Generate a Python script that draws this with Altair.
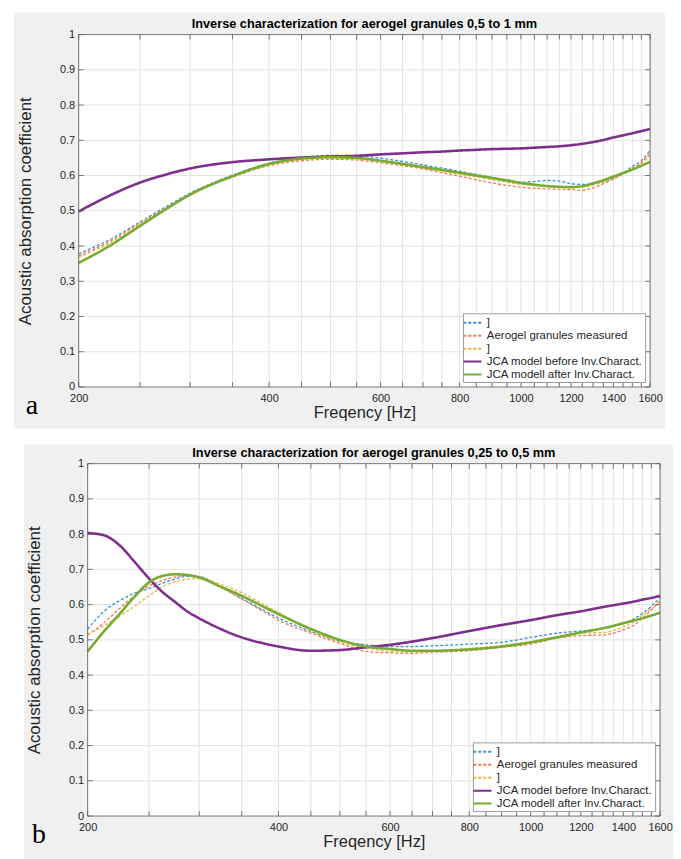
import altair as alt
import pandas as pd

# ---------------- data ----------------
series_keys = ["m1", "m2", "m3", "before", "after"]
series_labels = ["]", "Aerogel granules measured", "]",
                 "JCA model before Inv.Charact.", "JCA modell after Inv.Charact."]
series_colors = ["#3a8fd9", "#ee7b4f", "#f2b23e", "#7e2f8e", "#77ac30"]
series_dashes = [[3, 2], [3, 2], [3, 2], [1, 0], [1, 0]]

grid_freqs = [200, 250, 300, 350, 400, 450, 500, 550, 600, 650, 700, 750, 800, 850, 900,
              950, 1000, 1050, 1100, 1150, 1200, 1250, 1300, 1350, 1400, 1450, 1500, 1550, 1600]
x_tick_values = [200, 400, 600, 800, 1000, 1200, 1400, 1600]
y_tick_values = [0, 0.1, 0.2, 0.3, 0.4, 0.5, 0.6, 0.7, 0.8, 0.9, 1.0]
y_grid_values = [0.1, 0.2, 0.3, 0.4, 0.5, 0.6, 0.7, 0.8, 0.9]

title_a = "Inverse characterization for aerogel granules 0,5 to 1 mm"
title_b = "Inverse characterization for aerogel granules 0,25 to 0,5 mm"

freq_a = [200, 225, 250, 275, 300, 350, 400, 450, 500, 550, 600, 650, 700, 750, 800, 850,
          900, 950, 1000, 1050, 1100, 1150, 1200, 1250, 1300, 1350, 1400, 1450, 1500, 1550, 1600]
m1_a = [0.378, 0.420, 0.468, 0.512, 0.550, 0.601, 0.635, 0.651, 0.657, 0.656, 0.649, 0.640, 0.630,
        0.621, 0.612, 0.603, 0.595, 0.588, 0.581, 0.583, 0.586, 0.584, 0.577, 0.575, 0.576, 0.582,
        0.592, 0.607, 0.626, 0.642, 0.672]
m2_a = [0.372, 0.415, 0.465, 0.508, 0.546, 0.596, 0.628, 0.642, 0.646, 0.644, 0.636, 0.628, 0.619,
        0.608, 0.598, 0.588, 0.579, 0.572, 0.567, 0.564, 0.562, 0.561, 0.560, 0.558, 0.565, 0.577,
        0.590, 0.604, 0.621, 0.638, 0.663]
m3_a = [0.368, 0.410, 0.460, 0.505, 0.544, 0.597, 0.631, 0.646, 0.650, 0.648, 0.641, 0.631, 0.621,
        0.612, 0.604, 0.596, 0.588, 0.581, 0.575, 0.573, 0.572, 0.569, 0.567, 0.567, 0.573, 0.582,
        0.593, 0.604, 0.617, 0.632, 0.658]
before_a = [0.498, 0.545, 0.580, 0.603, 0.620, 0.638, 0.646, 0.651, 0.654, 0.656, 0.660, 0.663, 0.666,
            0.668, 0.671, 0.673, 0.675, 0.676, 0.677, 0.679, 0.681, 0.683, 0.686, 0.690, 0.695, 0.701,
            0.708, 0.714, 0.720, 0.726, 0.732]
after_a = [0.352, 0.403, 0.457, 0.505, 0.546, 0.598, 0.633, 0.648, 0.652, 0.650, 0.642, 0.633, 0.624,
           0.616, 0.608, 0.600, 0.593, 0.586, 0.579, 0.574, 0.570, 0.568, 0.567, 0.570, 0.578, 0.587,
           0.597, 0.607, 0.617, 0.628, 0.639]

freq_b = [200, 212, 225, 237, 250, 262, 275, 287, 300, 325, 350, 375, 400, 450, 500, 550, 600,
          650, 700, 800, 900, 1000, 1100, 1200, 1300, 1400, 1450, 1500, 1550, 1600]
m1_b = [0.530, 0.580, 0.612, 0.632, 0.646, 0.660, 0.673, 0.680, 0.679, 0.650, 0.618, 0.588, 0.562,
        0.524, 0.497, 0.486, 0.481, 0.481, 0.483, 0.488, 0.493, 0.507, 0.519, 0.525, 0.531, 0.547,
        0.558, 0.575, 0.595, 0.621]
m2_b = [0.514, 0.548, 0.590, 0.625, 0.653, 0.668, 0.678, 0.683, 0.679, 0.648, 0.616, 0.585, 0.556,
        0.519, 0.490, 0.467, 0.463, 0.462, 0.465, 0.469, 0.479, 0.488, 0.505, 0.512, 0.514, 0.528,
        0.540, 0.561, 0.585, 0.612]
m3_b = [0.516, 0.540, 0.568, 0.595, 0.625, 0.650, 0.665, 0.672, 0.674, 0.657, 0.634, 0.605, 0.578,
        0.528, 0.493, 0.477, 0.467, 0.465, 0.467, 0.475, 0.484, 0.495, 0.509, 0.519, 0.521, 0.537,
        0.550, 0.570, 0.588, 0.607]
before_b = [0.803, 0.797, 0.767, 0.722, 0.674, 0.637, 0.607, 0.581, 0.561, 0.530, 0.507, 0.492, 0.481,
            0.469, 0.471, 0.479, 0.486, 0.495, 0.505, 0.525, 0.542, 0.556, 0.570, 0.581, 0.593, 0.603,
            0.608, 0.614, 0.619, 0.625]
after_b = [0.467, 0.523, 0.575, 0.622, 0.663, 0.681, 0.686, 0.684, 0.677, 0.650, 0.625, 0.598, 0.573,
           0.531, 0.500, 0.481, 0.474, 0.469, 0.469, 0.473, 0.481, 0.493, 0.507, 0.521, 0.533, 0.547,
           0.554, 0.561, 0.569, 0.577]

# ---------------- styling ----------------
FONT = "Liberation Sans"
GRAY_BG = "#f0f0f0"
GRID = "#e3e3e3"
TICK = "#5a5a5a"
TXT = "#262626"


def label_expr():
    parts = []
    for k, lab in zip(series_keys, series_labels):
        parts.append(f"datum.value == '{k}' ? '{lab}' : ")
    return "".join(parts) + "''"


def panel(freq, values, title, letter, Wp, H, shift, gray, letter_x):
    W = Wp + shift
    rows = []
    for k in series_keys:
        for f, v in zip(freq, values[k]):
            rows.append({"f": f, "v": v, "s": k})
    df = pd.DataFrame(rows)
    meas = df[df["s"].isin(["m1", "m2", "m3"])]
    mods = df[df["s"].isin(["before", "after"])]
    one = pd.DataFrame({"k": [0]})
    gx = pd.DataFrame({"f": grid_freqs})
    gy = pd.DataFrame({"v": y_grid_values})
    ty = pd.DataFrame({"v": y_tick_values})

    xs = alt.Scale(type="log", domain=[200, 1600], nice=False, range=[shift, W])
    ysc = alt.Scale(domain=[0, 1], nice=False)
    xaxis = alt.Axis(values=x_tick_values, format="d", title="Freqency [Hz]", grid=False,
                     domain=False, ticks=False, labelFont=FONT, labelFontSize=11,
                     labelColor=TXT, labelPadding=6, labelFlush=False, labelOverlap=False,
                     titleFont=FONT, titleFontSize=16.5, titleFontWeight="normal",
                     titleColor=TXT, titlePadding=1, zindex=1)
    yaxis = alt.Axis(values=y_tick_values, format=".1~f", offset=-shift,
                     title="Acoustic absorption coefficient", grid=False, domain=False,
                     ticks=False, labelFont=FONT, labelFontSize=11, labelColor=TXT,
                     labelPadding=4, labelFlush=False, titleFont=FONT, titleFontSize=17,
                     titleFontWeight="normal", titleColor=TXT, titlePadding=25, zindex=1)
    X = alt.X("f:Q", scale=xs, axis=xaxis)
    Y = alt.Y("v:Q", scale=ysc, axis=yaxis)

    leg = alt.Legend(orient="bottom-right", title=None, labelExpr=label_expr(),
                     symbolType="M-1.4,0H1.4", symbolSize=169, symbolStrokeWidth=2,
                     symbolFillColor="transparent",
                     fillColor="white", strokeColor="#9a9a9a", padding=2, offset=5,
                     rowPadding=0, labelOffset=7, labelFont=FONT, labelFontSize=11.5,
                     labelColor=TXT, labelLimit=300, zindex=1)
    color = alt.Color("s:N", scale=alt.Scale(domain=series_keys, range=series_colors), legend=leg)
    dash = alt.StrokeDash("s:N", scale=alt.Scale(domain=series_keys, range=series_dashes), legend=leg)

    gl, gr, gt, gb = gray
    layers = [
        alt.Chart(one).mark_rect(color=GRAY_BG).encode(
            x=alt.value(gl), x2=alt.value(W + gr), y=alt.value(gt), y2=alt.value(H + gb)),
        alt.Chart(one).mark_rect(color="white").encode(
            x=alt.value(shift), x2=alt.value(W), y=alt.value(0), y2=alt.value(H)),
        alt.Chart(gx).mark_rule(color=GRID, strokeWidth=1).encode(x=X),
        alt.Chart(gy).mark_rule(color=GRID, strokeWidth=1).encode(
            y=Y, x=alt.value(shift), x2=alt.value(W)),
        alt.Chart(meas).mark_line(strokeWidth=1.3, interpolate="monotone").encode(
            x=X, y=Y, color=color, strokeDash=dash),
        alt.Chart(mods).mark_line(strokeWidth=2.6, interpolate="monotone").encode(
            x=X, y=Y, color=color, strokeDash=dash),
        alt.Chart(one).mark_rect(fill="white", fillOpacity=0, stroke=TICK, strokeWidth=0.8).encode(
            x=alt.value(shift), x2=alt.value(W), y=alt.value(0), y2=alt.value(H)),
        alt.Chart(gx).mark_rule(color=TICK, strokeWidth=0.8).encode(
            x=X, y=alt.value(0), y2=alt.value(5)),
        alt.Chart(gx).mark_rule(color=TICK, strokeWidth=0.8).encode(
            x=X, y=alt.value(H - 5), y2=alt.value(H)),
        alt.Chart(ty).mark_rule(color=TICK, strokeWidth=0.8).encode(
            y=Y, x=alt.value(shift), x2=alt.value(shift + 5)),
        alt.Chart(ty).mark_rule(color=TICK, strokeWidth=0.8).encode(
            y=Y, x=alt.value(W - 5), x2=alt.value(W)),
        alt.Chart(one).mark_text(text=title, font=FONT, fontSize=12.8, fontWeight="bold",
                                 align="center", baseline="alphabetic", color="black").encode(
            x=alt.value(shift + Wp / 2), y=alt.value(-7)),
        alt.Chart(one).mark_text(text=letter, font="Liberation Serif", fontSize=28,
                                 align="center", baseline="alphabetic", color="black").encode(
            x=alt.value(letter_x), y=alt.value(H + 27)),
    ]
    return alt.layer(*layers).properties(width=W, height=H)


vals_a = {"m1": m1_a, "m2": m2_a, "m3": m3_a, "before": before_a, "after": after_a}
vals_b = {"m1": m1_b, "m2": m2_b, "m3": m3_b, "before": before_b, "after": after_b}

pa = panel(freq_a, vals_a, title_a, "a", 574, 354, 0, (-65, 15, -22, 42), -47)
pb = panel(freq_b, vals_b, title_b, "b", 575, 354, 9, (-55, 13, -19, 384), -40)

chart = alt.vconcat(pa, pb, spacing=16).resolve_scale(
    x="independent", y="independent", color="independent", strokeDash="independent"
).resolve_legend(color="independent", strokeDash="independent").properties(
    padding={"left": 6, "top": 2, "right": 0, "bottom": 0}, background="white"
).configure_view(stroke=None)

chart.save("out.html", embed_options={"renderer": "svg", "actions": False})
